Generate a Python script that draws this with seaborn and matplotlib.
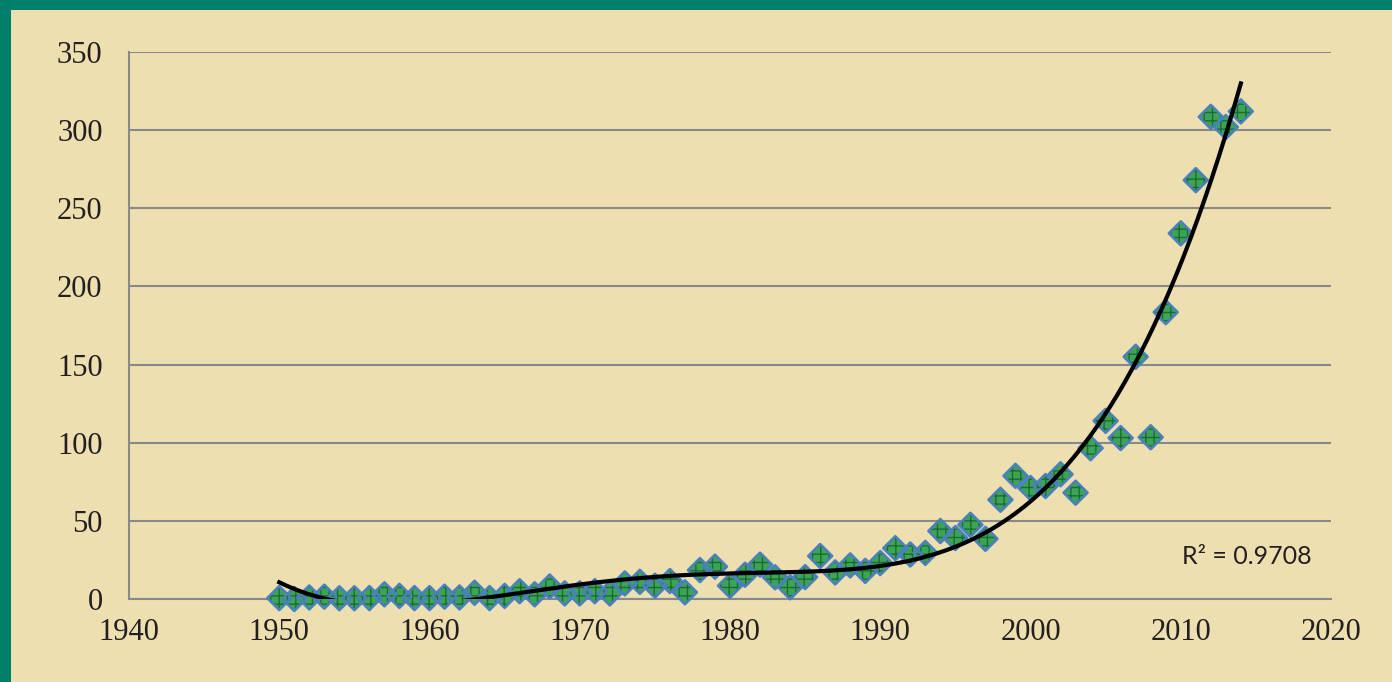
import numpy as np
import pandas as pd
import matplotlib
matplotlib.use("Agg")
import matplotlib.pyplot as plt
import seaborn as sns
from matplotlib.patches import Rectangle

# Yearly values
years = list(range(1950, 2015))
values = [
    0.6, 0.0, 1.0, 1.5, 0.5, 0.5, 0.6, 3.0, 2.0, 0.6,
    0.6, 1.5, 1.0, 4.0, 0.6, 2.0, 5.0, 3.0, 8.0, 3.6,
    3.6, 5.0, 3.6, 10.0, 11.0, 8.5, 11.5, 4.3, 18.5, 20.7,
    8.5, 15.5, 22.0, 13.9, 7.5, 14.0, 27.5, 17.0, 21.5, 18.0,
    23.0, 32.5, 28.5, 29.5, 43.5, 39.0, 47.5, 38.5, 63.5, 78.8,
    71.0, 72.3, 79.8, 68.0, 96.5, 114.0, 103.0, 155.0, 103.5, 183.5,
    234.0, 268.0, 308.5, 302.0, 312.0,
]
x_ticks = [1940, 1950, 1960, 1970, 1980, 1990, 2000, 2010, 2020]
y_ticks = [0, 50, 100, 150, 200, 250, 300, 350]
r2_label = "R² = 0.9708"

df = pd.DataFrame({"year": years, "value": values})

bg = "#EDDFB0"
border = "#00806A"
grid_c = "#898989"

fig = plt.figure(figsize=(13.92, 6.82), dpi=100, facecolor=bg)
ax = fig.add_axes([129 / 1392, 83 / 682, 1202 / 1392, 547 / 682])
ax.set_facecolor(bg)

# green frame on top and left, as in the source graphic
fig.patches.append(Rectangle((0, 1 - 10 / 682), 1, 10 / 682, transform=fig.transFigure,
                             facecolor=border, edgecolor="none", zorder=0))
fig.patches.append(Rectangle((0, 0), 11 / 1392, 1, transform=fig.transFigure,
                             facecolor=border, edgecolor="none", zorder=0))

# polynomial trend line (order 4), x centred for stability
xc = df["year"] - 1980
coef = np.polyfit(xc, df["value"], 4)
x_line = np.linspace(1950, 2014, 400)
y_line = np.polyval(coef, x_line - 1980)

# hatched green fill, then the blue diamond outline on top
sns.scatterplot(data=df, x="year", y="value", ax=ax, marker="D", s=150,
                color="#3DA355", edgecolor="#1B6B34", linewidth=0,
                hatch="++", clip_on=False, zorder=3, legend=False)
sns.scatterplot(data=df, x="year", y="value", ax=ax, marker="D", s=150,
                facecolor="none", edgecolor="#4A7FC0", linewidth=1.8,
                clip_on=False, zorder=3, legend=False)
ax.plot(x_line, y_line, color="black", lw=3, zorder=4)

ax.set_xlim(1940, 2020)
ax.set_ylim(0, 350)
ax.set_xticks(x_ticks)
ax.set_yticks(y_ticks)
ax.set_xlabel("")
ax.set_ylabel("")
ax.yaxis.grid(True, color=grid_c, lw=1.5)
ax.xaxis.grid(False)
ax.set_axisbelow(True)

for s in ["top", "right"]:
    ax.spines[s].set_visible(False)
for s in ["left", "bottom"]:
    ax.spines[s].set_color(grid_c)
    ax.spines[s].set_linewidth(1.5)

ax.tick_params(axis="both", length=0, labelsize=22, colors="#231F20")
ax.tick_params(axis="x", pad=14)
ax.tick_params(axis="y", pad=19)
for lab in ax.get_xticklabels() + ax.get_yticklabels():
    lab.set_family("Liberation Serif")

ax.text(0.984, 0.077, r2_label, transform=ax.transAxes, ha="right", va="center",
        fontsize=18, family="Lato", color="#231F20")

fig.savefig("out.png", dpi=100, facecolor=bg)
